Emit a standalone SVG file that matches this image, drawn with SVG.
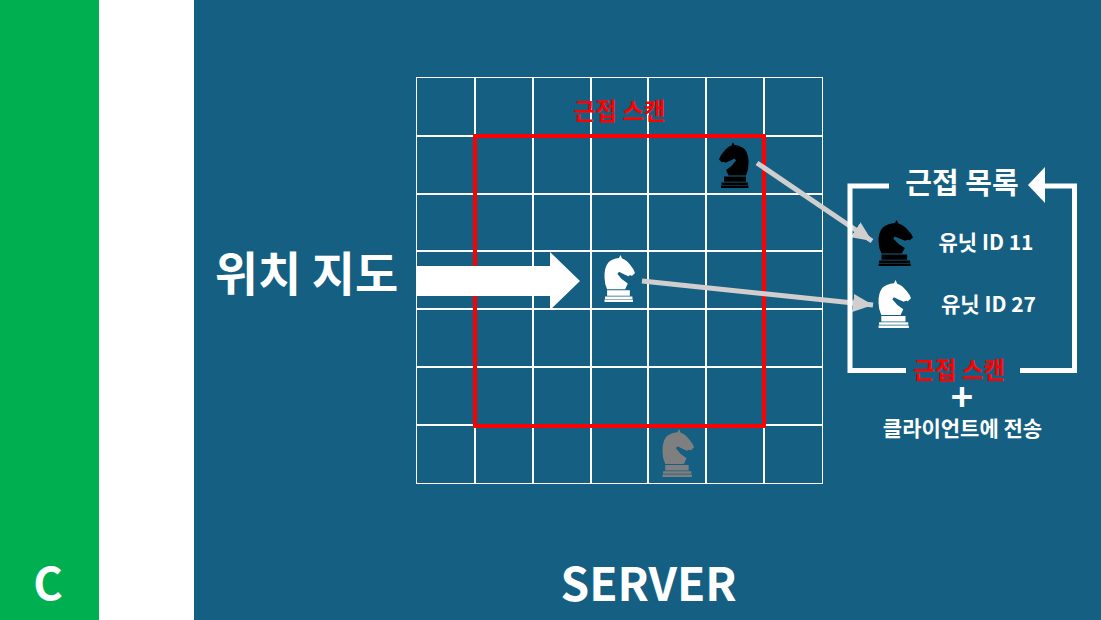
<svg xmlns="http://www.w3.org/2000/svg" width="1101" height="620" viewBox="0 0 1101 620">
<style>
text{font-family:"Noto Sans CJK KR","Noto Sans",sans-serif;font-weight:700;fill:#fff;text-anchor:middle}
.red{fill:#f00}
.g{stroke:#fff;stroke-width:2;fill:none}
.c{stroke:#d0cece;stroke-width:5;fill:none}
.b{stroke:#fff;stroke-width:5;fill:none}
</style>
<defs>
<symbol id="knight" viewBox="0 0 30 46" preserveAspectRatio="none">
<path d="M14 0L15.500 3Q22 3.500 26 7.500Q30 13 29.500 22Q29.500 28 27 33.500H9.500L7 28Q13 24.500 17 18.500L15.500 16.500Q11 19 6.500 20.800Q4.500 19 3 20.500L0 17.500Q1 14 4 10.500Q8 5 12.500 3.500Z"/>
<path d="M5 34.500H27V39.800H5ZM2.500 40.500H29V43H2.500ZM2 43.600H29.500V46H2Z"/>
</symbol>
<marker id="ah" markerUnits="userSpaceOnUse" markerWidth="20" markerHeight="18" refX="20" refY="9" orient="auto"><path d="M0 0L20 9L0 18Z" fill="#d0cece"/></marker>
</defs>
<rect width="1101" height="620" fill="#156082"/>
<rect width="99" height="620" fill="#00b050"/>
<rect x="99" width="95" height="620" fill="#fff"/>
<text x="48" y="600" font-size="45">C</text>
<text x="648.500" y="601" font-size="46">SERVER</text>
<g id="grid">
<path class="g" d="M475 77.500V483.500M533 77.500V483.500M591 77.500V483.500M648 77.500V483.500M706 77.500V483.500M764 77.500V483.500M416.500 136H822.500M416.500 194H822.500M416.500 251H822.500M416.500 309H822.500M416.500 367H822.500M416.500 425H822.500"/>
<rect x="416.500" y="77.500" width="406" height="406" fill="none" stroke="#fff"/>
</g>
<g id="scan-area"><rect x="475" y="136" width="289" height="290" fill="none" stroke="#f00" stroke-width="4"/>
<text class="red" x="619.500" y="120" font-size="23.500">근접 스캔</text></g>
<g id="map-label"><text x="306.500" y="291" font-size="47">위치 지도</text>
<path d="M416 266H550V252L580 281L550 310V296H416Z" fill="#fff"/></g>
<g id="knight-black"><use href="#knight" x="719" y="142" width="30" height="46" fill="#000"/></g>
<g id="knight-white"><use href="#knight" transform="translate(635 255) scale(-1 1)" width="31" height="47" fill="#fff"/></g>
<g id="knight-gray"><use href="#knight" transform="translate(694 429) scale(-1 1)" width="32" height="48" fill="#7f7f7f"/></g>
<g id="connectors">
<path class="c" d="M757 163L872 241" marker-end="url(#ah)"/>
<path class="c" d="M642 281L873 305" marker-end="url(#ah)"/>
</g>
<g id="list">
<path class="b" d="M889 186H850V370.500H906M1020 370.500H1074.500V186H1043"/>
<path d="M1028 185L1045 167V203Z" fill="#fff"/>
<text x="962" y="194" font-size="29">근접 목록</text>
</g>
<g id="unit-11"><use href="#knight" transform="translate(913 220) scale(-1 1)" width="35" height="46" fill="#000"/>
<text x="986" y="250" font-size="21">유닛 ID 11</text></g>
<g id="unit-27"><use href="#knight" transform="translate(911 280) scale(-1 1)" width="33" height="48" fill="#fff"/>
<text x="988.500" y="312" font-size="21">유닛 ID 27</text></g>
<g id="scan-send">
<text class="red" x="959" y="379" font-size="23.500">근접 스캔</text>
<text x="962" y="411" font-size="38">+</text>
<text x="962.500" y="436" font-size="21">클라이언트에 전송</text>
</g>
</svg>
